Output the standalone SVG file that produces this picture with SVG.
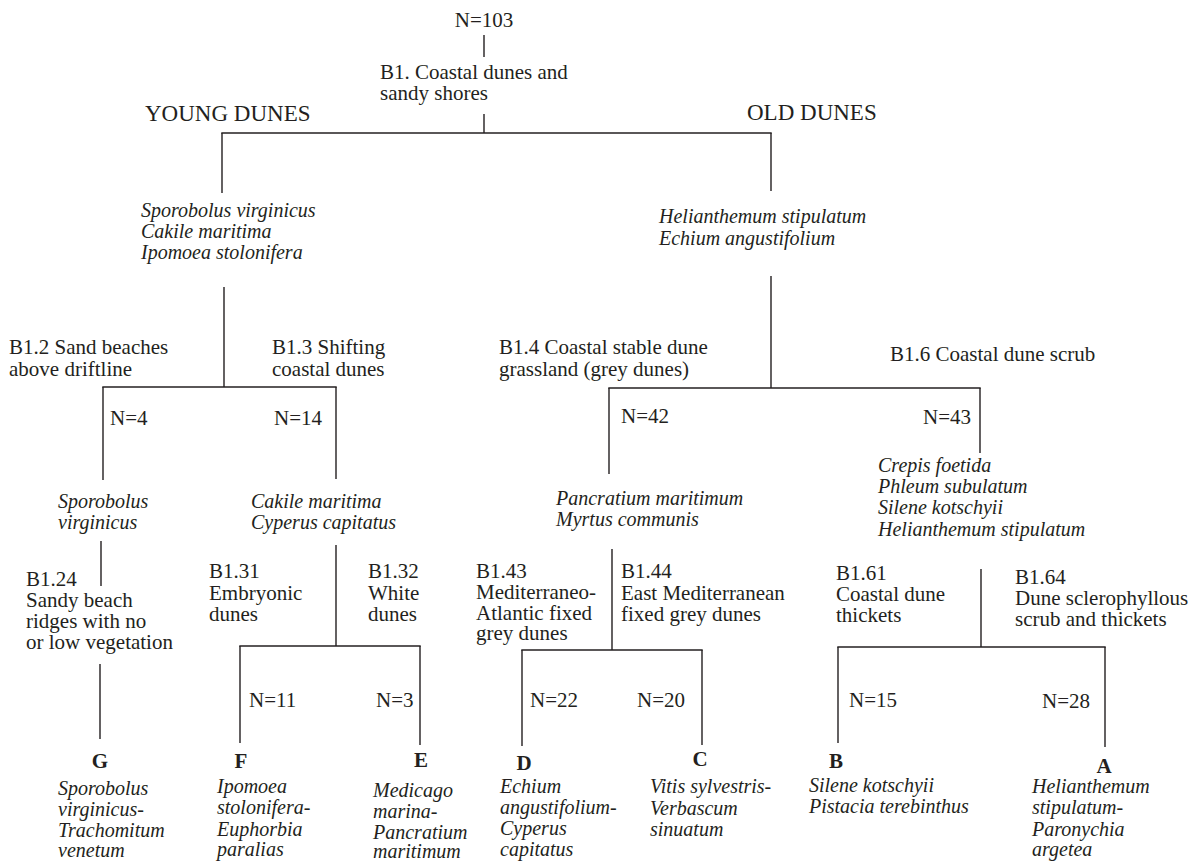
<svg xmlns="http://www.w3.org/2000/svg" width="1202" height="862" viewBox="0 0 1202 862">
<style>
text{font-family:"Liberation Serif","Times New Roman",serif;fill:#231f20}
.r{font-size:21px}
.i{font-size:20px;font-style:italic}
.h{font-size:23px}
.b{font-size:21px;font-weight:bold;text-anchor:middle}
.m{text-anchor:middle}
#connectors line{stroke:#231f20;stroke-width:1.4;fill:none}
</style>
<rect width="1202" height="862" fill="#fff"/>
<g id="connectors">
<line x1="484" y1="35" x2="484" y2="57"/>
<line x1="484" y1="114" x2="484" y2="133"/>
<line x1="221.3" y1="133" x2="771.7" y2="133"/>
<line x1="222" y1="133" x2="222" y2="193"/>
<line x1="771" y1="133" x2="771" y2="191"/>
<line x1="224" y1="287" x2="224" y2="387"/>
<line x1="102.3" y1="387" x2="336.7" y2="387"/>
<line x1="103" y1="387" x2="103" y2="480"/>
<line x1="336" y1="387" x2="336" y2="479"/>
<line x1="771" y1="276" x2="771" y2="388"/>
<line x1="608.3" y1="388" x2="980.7" y2="388"/>
<line x1="609" y1="388" x2="609" y2="474"/>
<line x1="980" y1="388" x2="980" y2="453"/>
<line x1="101" y1="541" x2="101" y2="586"/>
<line x1="100" y1="664" x2="100" y2="739"/>
<line x1="336" y1="545" x2="336" y2="646"/>
<line x1="239.3" y1="646" x2="420.7" y2="646"/>
<line x1="240" y1="646" x2="240" y2="743"/>
<line x1="420" y1="646" x2="420" y2="745"/>
<line x1="612" y1="549" x2="612" y2="650"/>
<line x1="521.3" y1="650" x2="702.7" y2="650"/>
<line x1="522" y1="650" x2="522" y2="746"/>
<line x1="702" y1="650" x2="702" y2="745"/>
<line x1="981" y1="569" x2="981" y2="647"/>
<line x1="837.3" y1="647" x2="1105.7" y2="647"/>
<line x1="838" y1="647" x2="838" y2="743"/>
<line x1="1105" y1="647" x2="1105" y2="747"/>
</g>
<g id="root"><text class="r m" x="484" y="27">N=103</text></g>
<g id="b1"><text class="r" x="380" y="79">B1. Coastal dunes and</text><text class="r" x="380" y="100">sandy shores</text></g>
<g id="young"><text class="h" x="145" y="121">YOUNG DUNES</text></g>
<g id="old"><text class="h" x="747" y="120">OLD DUNES</text></g>
<g id="young-species"><text class="i" x="141" y="217">Sporobolus virginicus</text><text class="i" x="141" y="238">Cakile maritima</text><text class="i" x="141" y="259">Ipomoea stolonifera</text></g>
<g id="old-species"><text class="i" x="659" y="223">Helianthemum stipulatum</text><text class="i" x="659" y="245">Echium angustifolium</text></g>
<g id="b12"><text class="r" x="9" y="354">B1.2 Sand beaches</text><text class="r" x="9" y="376">above driftline</text><text class="r" x="110" y="425">N=4</text></g>
<g id="b13"><text class="r" x="272" y="354">B1.3 Shifting</text><text class="r" x="272" y="376">coastal dunes</text><text class="r" x="274" y="425">N=14</text></g>
<g id="b14"><text class="r" x="499" y="354">B1.4 Coastal stable dune</text><text class="r" x="499" y="376">grassland (grey dunes)</text><text class="r" x="621" y="423">N=42</text></g>
<g id="b16"><text class="r" x="890" y="361">B1.6 Coastal dune scrub</text><text class="r" x="923" y="424">N=43</text></g>
<g id="b12-species"><text class="i" x="58" y="508">Sporobolus</text><text class="i" x="58" y="529">virginicus</text></g>
<g id="b13-species"><text class="i" x="251" y="508">Cakile maritima</text><text class="i" x="251" y="529">Cyperus capitatus</text></g>
<g id="b14-species"><text class="i" x="556" y="505">Pancratium maritimum</text><text class="i" x="556" y="526">Myrtus communis</text></g>
<g id="b16-species"><text class="i" x="878" y="472">Crepis foetida</text><text class="i" x="878" y="493">Phleum subulatum</text><text class="i" x="878" y="514">Silene kotschyii</text><text class="i" x="878" y="536">Helianthemum stipulatum</text></g>
<g id="b124"><text class="r" x="26" y="586">B1.24</text><text class="r" x="26" y="607">Sandy beach</text><text class="r" x="26" y="628">ridges with no</text><text class="r" x="26" y="649">or low vegetation</text></g>
<g id="b131"><text class="r" x="209" y="578">B1.31</text><text class="r" x="209" y="600">Embryonic</text><text class="r" x="209" y="621">dunes</text><text class="r" x="249" y="707">N=11</text></g>
<g id="b132"><text class="r" x="368" y="578">B1.32</text><text class="r" x="368" y="600">White</text><text class="r" x="368" y="621">dunes</text><text class="r" x="376" y="707">N=3</text></g>
<g id="b143"><text class="r" x="476" y="578">B1.43</text><text class="r" x="476" y="599">Mediterraneo-</text><text class="r" x="476" y="620">Atlantic fixed</text><text class="r" x="476" y="640">grey dunes</text><text class="r" x="530" y="707">N=22</text></g>
<g id="b144"><text class="r" x="621" y="578">B1.44</text><text class="r" x="621" y="600">East Mediterranean</text><text class="r" x="621" y="621">fixed grey dunes</text><text class="r" x="637" y="707">N=20</text></g>
<g id="b161"><text class="r" x="836" y="580">B1.61</text><text class="r" x="836" y="601">Coastal dune</text><text class="r" x="836" y="622">thickets</text><text class="r" x="849" y="707">N=15</text></g>
<g id="b164"><text class="r" x="1015" y="584">B1.64</text><text class="r" x="1015" y="605">Dune sclerophyllous</text><text class="r" x="1015" y="626">scrub and thickets</text><text class="r" x="1042" y="708">N=28</text></g>
<g id="G"><text class="b" x="100" y="768">G</text><text class="i" x="58" y="795">Sporobolus</text><text class="i" x="58" y="816">virginicus-</text><text class="i" x="58" y="837">Trachomitum</text><text class="i" x="58" y="857">venetum</text></g>
<g id="F"><text class="b" x="241" y="768">F</text><text class="i" x="217" y="793">Ipomoea</text><text class="i" x="217" y="814">stolonifera-</text><text class="i" x="217" y="836">Euphorbia</text><text class="i" x="217" y="856">paralias</text></g>
<g id="E"><text class="b" x="421" y="767">E</text><text class="i" x="373" y="797">Medicago</text><text class="i" x="373" y="818">marina-</text><text class="i" x="373" y="839">Pancratium</text><text class="i" x="373" y="858">maritimum</text></g>
<g id="D"><text class="b" x="524" y="770">D</text><text class="i" x="500" y="793">Echium</text><text class="i" x="500" y="814">angustifolium-</text><text class="i" x="500" y="835">Cyperus</text><text class="i" x="500" y="856">capitatus</text></g>
<g id="C"><text class="b" x="700" y="766">C</text><text class="i" x="650" y="793">Vitis sylvestris-</text><text class="i" x="650" y="815">Verbascum</text><text class="i" x="650" y="836">sinuatum</text></g>
<g id="B"><text class="b" x="836" y="768">B</text><text class="i" x="809" y="792">Silene kotschyii</text><text class="i" x="809" y="813">Pistacia terebinthus</text></g>
<g id="A"><text class="b" x="1104" y="773">A</text><text class="i" x="1032" y="793">Helianthemum</text><text class="i" x="1032" y="814">stipulatum-</text><text class="i" x="1032" y="836">Paronychia</text><text class="i" x="1032" y="856">argetea</text></g>
</svg>
